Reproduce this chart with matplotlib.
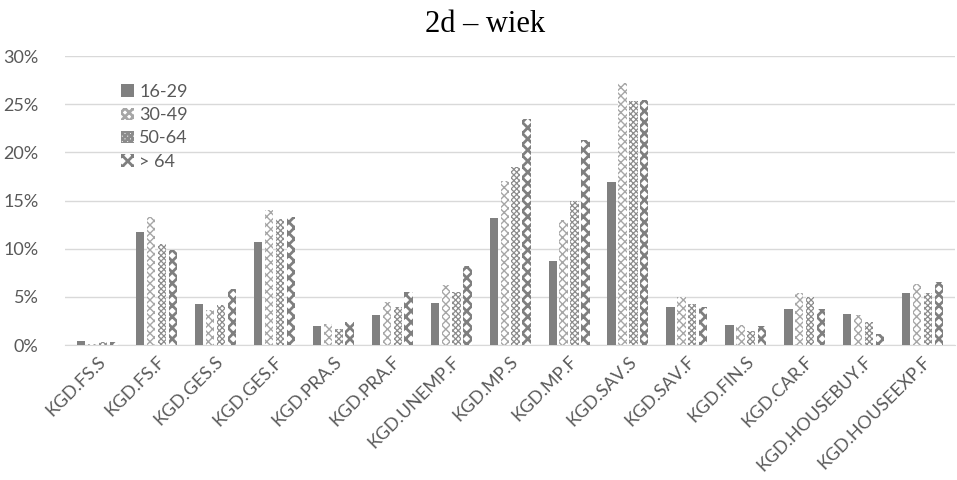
import matplotlib
matplotlib.use("Agg")
import matplotlib.pyplot as plt
import numpy as np
from matplotlib.ticker import PercentFormatter

categories = ["KGD.FS.S", "KGD.FS.F", "KGD.GES.S", "KGD.GES.F", "KGD.PRA.S", "KGD.PRA.F",
              "KGD.UNEMP.F", "KGD.MP.S", "KGD.MP.F", "KGD.SAV.S", "KGD.SAV.F", "KGD.FIN.S",
              "KGD.CAR.F", "KGD.HOUSEBUY.F", "KGD.HOUSEEXP.F"]
series_names = ["16-29", "30-49", "50-64", "> 64"]
v_16_29 = [0.4, 11.7, 4.3, 10.7, 2.0, 3.1, 4.4, 13.2, 8.7, 16.9, 4.0, 2.1, 3.8, 3.2, 5.4]
v_30_49 = [0.15, 13.3, 3.6, 14.0, 2.2, 4.5, 6.2, 17.0, 13.0, 27.2, 5.0, 2.05, 5.4, 3.1, 6.3]
v_50_64 = [0.3, 10.5, 4.2, 13.1, 1.65, 4.0, 5.5, 18.5, 15.0, 25.3, 4.3, 1.5, 4.95, 2.35, 5.4]
v_over64 = [0.35, 9.9, 5.8, 13.25, 2.4, 5.5, 8.2, 23.5, 21.3, 25.5, 4.0, 2.0, 3.8, 1.2, 6.6]
title = "2d – wiek"

LABEL_FONT = 'Lato'
fig = plt.figure(figsize=(9.57, 4.8), dpi=100)
ax = fig.add_axes([0.068, 0.281, 0.930, 0.602])

x = np.arange(len(categories))
step = 0.185
width = 0.14
styles = [
    dict(facecolor='#808080', edgecolor='#808080', hatch=None, hlw=1.0),
    dict(facecolor='white', edgecolor='#a6a6a6', hatch='xxxx', hlw=1.0),
    dict(facecolor='white', edgecolor='#8c8c8c', hatch='xxxxxx', hlw=0.9),
    dict(facecolor='white', edgecolor='#7f7f7f', hatch='xxx', hlw=2.0),
]
series = [v_16_29, v_30_49, v_50_64, v_over64]
for i, (vals, name, st) in enumerate(zip(series, series_names, styles)):
    plt.rcParams['hatch.linewidth'] = st['hlw']
    plt.rcParams['hatch.color'] = st['edgecolor']
    off = (i - 1.5) * step
    bars = ax.bar(x + off, vals, width, label=name, facecolor=st['facecolor'],
                  edgecolor=st['edgecolor'], hatch=st['hatch'], linewidth=0, zorder=3)
    for b in bars:
        if hasattr(b, 'set_hatch_linewidth'):
            b.set_hatch_linewidth(st['hlw'])

ax.set_ylim(0, 30)
ax.set_xlim(-0.55, len(categories) - 0.45)
ax.set_yticks(np.arange(0, 31, 5))
ax.yaxis.set_major_formatter(PercentFormatter(decimals=0))
ax.grid(axis='y', color='#d9d9d9', linewidth=1, zorder=0)
for s in ['top', 'right', 'left']:
    ax.spines[s].set_visible(False)
ax.spines['bottom'].set_color('#d9d9d9')
ax.tick_params(axis='both', length=0, colors='#595959', labelsize=13)
ax.set_xticks(x)
ax.set_xticklabels(categories, rotation=45, ha='right', rotation_mode='anchor')
for lab in ax.get_xticklabels() + ax.get_yticklabels():
    lab.set_fontfamily(LABEL_FONT)
ax.tick_params(axis='y', pad=19)
ax.tick_params(axis='x', pad=6)

fig.text(0.507, 0.948, title, ha='center', va='center', fontsize=22,
         fontfamily='Liberation Serif', color='black')

leg = ax.legend(loc='upper left', bbox_to_anchor=(0.045, 0.96), frameon=False,
                prop={'family': LABEL_FONT, 'size': 13}, handlelength=0.7,
                handleheight=0.7, handletextpad=0.3, labelspacing=0.4)
for t in leg.get_texts():
    t.set_color('#595959')

fig.savefig('out.png', dpi=100)
